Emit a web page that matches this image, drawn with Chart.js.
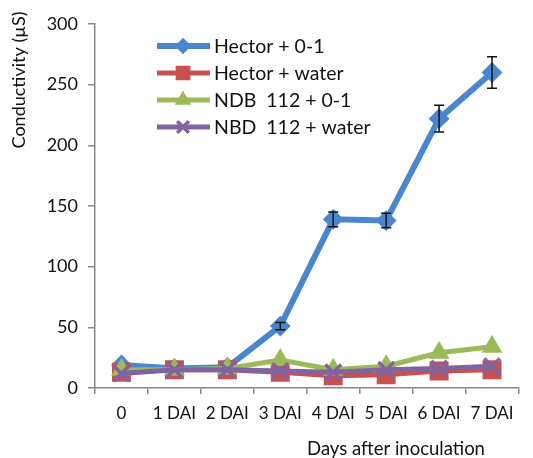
<!DOCTYPE html>
<html>
<head>
<meta charset="utf-8">
<script src="https://cdn.jsdelivr.net/npm/chart.js@4/dist/chart.umd.min.js"></script>
<style>
  html, body { margin: 0; padding: 0; background: #fff; }
  #wrap { width: 533px; height: 458px; position: relative; }
</style>
</head>
<body>
<div id="wrap"><canvas id="chart"></canvas></div>
<script>
// ------------------------
// DATA
// ------------------------
const days = ["0", "1 DAI", "2 DAI", "3 DAI", "4 DAI", "5 DAI", "6 DAI", "7 DAI"];
const seriesNames = ["Hector + 0-1", "Hector + water", "NDB  112 + 0-1", "NBD  112 + water"];
const hectorInf = [19, 16, 17, 51, 139, 138, 222, 260];
const hectorWater = [13, 15, 15, 13, 10, 11, 14, 15];
const ndbInf = [15, 15, 16, 23, 15, 18, 29, 34];
const ndbWater = [12, 15, 15, 14, 13, 15, 16, 18];
const hectorInfErr = [2, 1, 1, 3, 6, 6, 11, 13];
const yTicks = [0, 50, 100, 150, 200, 250, 300];

const FONT = "Lato, 'Open Sans', sans-serif";
const colors = ['#4A86CE', '#C8504D', '#9BBB59', '#8064A2'];

// ------------------------
// PLUGINS
// ------------------------
const errorBars = {
  id: 'errorBars',
  afterDatasetsDraw(chart) {
    const ctx = chart.ctx, x = chart.scales.x, y = chart.scales.y;
    ctx.save();
    ctx.strokeStyle = '#111';
    ctx.lineWidth = 1.5;
    hectorInf.forEach((v, i) => {
      const e = hectorInfErr[i];
      if (e < 3) return;
      const px = x.getPixelForValue(i);
      const top = y.getPixelForValue(v + e), bot = y.getPixelForValue(v - e);
      ctx.beginPath();
      ctx.moveTo(px, top); ctx.lineTo(px, bot);
      ctx.moveTo(px - 5, top); ctx.lineTo(px + 5, top);
      ctx.moveTo(px - 5, bot); ctx.lineTo(px + 5, bot);
      ctx.stroke();
    });
    ctx.restore();
  }
};

const legendBox = {
  id: 'legendBox',
  afterDraw(chart) {
    const ctx = chart.ctx;
    ctx.save();
    chart.data.datasets.forEach((ds, i) => {
      const yy = 46 + i * 27;
      ctx.strokeStyle = ds.borderColor;
      ctx.lineWidth = ds.borderWidth;
      ctx.beginPath();
      ctx.moveTo(157, yy); ctx.lineTo(210, yy);
      ctx.stroke();
      ctx.fillStyle = ds.pointBackgroundColor;
      ctx.strokeStyle = ds.pointBorderColor;
      ctx.lineWidth = ds.pointBorderWidth;
      Chart.helpers.drawPoint(ctx, {
        pointStyle: ds.pointStyle,
        radius: ds.pointRadius * 0.75,
        borderWidth: ds.pointBorderWidth,
        rotation: 0
      }, 183, yy);
      ctx.fillStyle = '#111';
      ctx.font = '19.5px ' + FONT;
      ctx.textBaseline = 'middle';
      ctx.fillText(ds.label, 214, yy + 1);
    });
    ctx.restore();
  }
};

const axisTitles = {
  id: 'axisTitles',
  afterDraw(chart) {
    const ctx = chart.ctx;
    ctx.save();
    ctx.fillStyle = '#111';
    ctx.font = '18px ' + FONT;
    ctx.textAlign = 'center';
    ctx.textBaseline = 'middle';
    ctx.translate(19, 80);
    ctx.rotate(-Math.PI / 2);
    ctx.fillText('Conductivity (µS)', 0, 0);
    ctx.restore();
    ctx.save();
    ctx.fillStyle = '#111';
    ctx.font = '18.5px ' + FONT;
    ctx.textAlign = 'center';
    ctx.textBaseline = 'middle';
    ctx.fillText('Days after inoculation', 396, 449);
    ctx.restore();
  }
};

// ------------------------
// CHART
// ------------------------
function line(label, data, color, style, radius, width, order, pbw) {
  return {
    label, data, order,
    borderColor: color,
    backgroundColor: color,
    borderWidth: width,
    pointStyle: style,
    pointRadius: radius,
    pointBackgroundColor: color,
    pointBorderColor: color,
    pointBorderWidth: pbw,
    tension: 0
  };
}

new Chart(document.getElementById('chart'), {
  type: 'line',
  data: {
    labels: days,
    datasets: [
      line(seriesNames[0], hectorInf, colors[0], 'rectRot', 9, 6, 3, 2),
      line(seriesNames[1], hectorWater, colors[1], 'rect', 12, 5, 2, 2),
      line(seriesNames[2], ndbInf, colors[2], 'triangle', 10, 5, 1, 2),
      line(seriesNames[3], ndbWater, colors[3], 'crossRot', 11, 5, 0, 3.5)
    ]
  },
  options: {
    responsive: true,
    maintainAspectRatio: false,
    animation: false,
    layout: { padding: { top: 24, right: 0, left: 0, bottom: 0 } },
    plugins: { legend: { display: false }, tooltip: { enabled: false } },
    scales: {
      x: {
        offset: true,
        grid: { offset: true, drawOnChartArea: false, tickLength: 6, color: '#888', lineWidth: 1.5 },
        border: { color: '#888', width: 1.5 },
        ticks: { color: '#111', padding: 9, maxRotation: 0, font: { family: FONT, size: 17 } },
        afterFit(s) { s.height = 70; }
      },
      y: {
        min: 0, max: 300,
        afterBuildTicks(s) { s.ticks = yTicks.map(v => ({ value: v })); },
        grid: { drawOnChartArea: false, tickLength: 7, color: '#888', lineWidth: 1.5 },
        border: { color: '#888', width: 1.5 },
        ticks: { color: '#111', padding: 10, font: { family: FONT, size: 18 } },
        afterFit(s) { s.width = 95; }
      }
    }
  },
  plugins: [errorBars, legendBox, axisTitles]
});
</script>
</body>
</html>
